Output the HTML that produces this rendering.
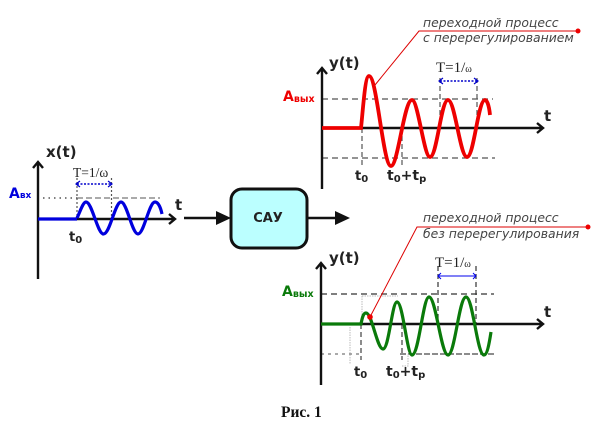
<!DOCTYPE html>
<html>
<head>
<meta charset="utf-8">
<style>
html,body{margin:0;padding:0;background:#fff;}
svg{display:block;}
.b{font-family:"DejaVu Sans",sans-serif;font-weight:bold;}
.i{font-family:"DejaVu Sans",sans-serif;font-style:oblique;font-size:12.4px;fill:#444;}
.T{font-family:"Liberation Serif",serif;fill:#222;}
.lab{font-size:15px;fill:#222;}
</style>
</head>
<body>
<svg width="604" height="431" viewBox="0 0 604 431" xmlns="http://www.w3.org/2000/svg">

<!-- LEFT GRAPH -->
<g fill="none" stroke="#555" stroke-width="1.2">
<path d="M43 198H77" stroke-dasharray="1.5 4" stroke="#333"/>
<path d="M77 198H160" stroke-dasharray="6 3" stroke="#777"/>
<path d="M77 178V219M111.500 178V219" stroke-dasharray="2 2"/>
</g>
<path d="M77 184H111" stroke="#0000cc" stroke-width="1.500" stroke-dasharray="2 1.500" fill="none"/>
<path d="M80 181L76 184L80 187M108 181L112 184L108 187" stroke="#0000cc" stroke-width="1.200" fill="none"/>
<path d="M38 279V163M33 168L38 162L43 168" stroke="#111" stroke-width="2.400" fill="none"/>
<path d="M38 219H174M169 214L175 219L169 224" stroke="#111" stroke-width="2.400" fill="none"/>
<path d="M38 219H77" stroke="#0000dd" stroke-width="3.200" fill="none"/>
<path d="M77 218C80 212 83 202 86 202C92 202 97.500 234 103.500 234C110 234 115 202 121 202C127 202 132 234 138 234C144 234 149 202 155 202C158 202 160.500 207 162 214" stroke="#0000dd" stroke-width="3.200" fill="none"/>
<text class="b lab" x="46" y="157">x(t)</text>
<text class="b" x="175" y="210" font-size="15" fill="#222">t</text>
<text class="b" x="9" y="198" font-size="14" fill="#0000dd">A<tspan font-size="9">вх</tspan></text>
<text class="b" x="69" y="241" font-size="13" fill="#222">t<tspan font-size="10" dy="2">0</tspan></text>
<text class="T" x="73" y="177" font-size="13.500">T=1/ω</text>

<!-- SAU BOX -->
<path d="M184 218H222" stroke="#111" stroke-width="2.500" fill="none"/>
<path d="M216 211L231 218L216 225Z" fill="#111"/>
<path d="M307 218H338" stroke="#111" stroke-width="2.500" fill="none"/>
<path d="M335 211L350 218L335 225Z" fill="#111"/>
<rect x="231" y="189" width="76" height="59" rx="11" ry="11" fill="#bbffff" stroke="#111" stroke-width="3"/>
<text class="b" x="268" y="222" font-size="13" fill="#222" text-anchor="middle">САУ</text>

<!-- RED GRAPH -->
<g fill="none" stroke="#555" stroke-width="1.200">
<path d="M322 99H493" stroke-dasharray="6 4"/>
<path d="M322 158H495" stroke-dasharray="6 4"/>
<path d="M362 128V167M402 128V167" stroke-dasharray="5 3"/>
<path d="M440 78V128M477 78V128" stroke-dasharray="5 3"/>
</g>
<path d="M440 81H477" stroke="#0000cc" stroke-width="1.500" stroke-dasharray="2 1.500" fill="none"/>
<path d="M443 78L439 81L443 84M474 78L478 81L474 84" stroke="#0000cc" stroke-width="1.200" fill="none"/>
<path d="M322 189V69M317 74L322 68L327 74" stroke="#111" stroke-width="2.400" fill="none"/>
<path d="M322 128H542M537 123L543 128L537 133" stroke="#111" stroke-width="2.400" fill="none"/>
<path d="M322 128H361C363 110 365 76 369 76C377 76 383 166 391 166C398 166 404 100 412 100C418 100 424 157 430 157C437 157 441 100 448 100C455 100 460 157 467 157C474 157 478 100 485 100C487 100 489 105 490 115" stroke="#ee0000" stroke-width="3.800" fill="none"/>
<path d="M578 31H419L375 85" stroke="#dd0000" stroke-width="1" fill="none"/>
<circle cx="578" cy="31" r="2.500" fill="#ee0000"/>
<text class="i" x="423" y="27">переходной процесс</text>
<text class="i" x="423" y="42">с перерегулированием</text>
<text class="b lab" x="329" y="68">y(t)</text>
<text class="b" x="544" y="121" font-size="15" fill="#222">t</text>
<text class="b" x="283" y="101" font-size="14" fill="#ee0000">A<tspan font-size="9.500" dy="1">вых</tspan></text>
<text class="b" x="355" y="180" font-size="13" fill="#222">t<tspan font-size="10" dy="2">0</tspan></text>
<text class="b" x="387" y="180" font-size="14" fill="#222">t<tspan font-size="10" dy="2">0</tspan><tspan dy="-2">+t</tspan><tspan font-size="10" dy="2">р</tspan></text>
<text class="T" x="436" y="72" font-size="15">T=1/<tspan font-size="10">ω</tspan></text>

<!-- GREEN GRAPH -->
<g fill="none" stroke="#333" stroke-width="1.200">
<path d="M321 294H494" stroke-dasharray="6 4"/>
<path d="M321 354H362" stroke-dasharray="3 4" stroke="#777"/>
<path d="M400 354H494" stroke-dasharray="6 2" stroke="#666" stroke-width="1.500"/>
<path d="M361 324V360M402 324V360" stroke-dasharray="5 3" stroke="#666" stroke-width="1.500"/>
<path d="M438 266V324M476 266V324" stroke-dasharray="5 3"/>
</g>
<path d="M362 296H398M362 296V324M350 327V364M402 366H408V354" fill="none" stroke="#bbb" stroke-width="1" stroke-dasharray="1.500 1"/>
<path d="M438 276H476" stroke="#0000ee" stroke-width="1" fill="none"/>
<path d="M441 273L438 276L441 279M473 273L476 276L473 279" stroke="#0000ee" stroke-width="1" fill="none"/>
<path d="M321 385V264M316 269L321 263L326 269" stroke="#111" stroke-width="2.400" fill="none"/>
<path d="M321 324H542M537 319L543 324L537 329" stroke="#111" stroke-width="2.400" fill="none"/>
<path d="M321 324H361C362 319 363 313 366 313C372 313 377 349 383 349C389 349 392 302 397 302C403 302 407 355 412 355C419 355 423 297 429 297C436 297 441 355 448 355C455 355 459 297 466 297C473 297 477 355 484 355C487 355 489 345 491 332" stroke="#0a7a0a" stroke-width="3.200" fill="none"/>
<path d="M588 227H417L370 317" stroke="#dd0000" stroke-width="1" fill="none"/>
<circle cx="588" cy="227" r="2.500" fill="#ee0000"/>
<circle cx="370" cy="317" r="2.800" fill="#ee0000"/>
<text class="i" x="423" y="222">переходной процесс</text>
<text class="i" x="423" y="238">без перерегулирования</text>
<text class="b lab" x="329" y="263">y(t)</text>
<text class="b" x="544" y="317" font-size="15" fill="#222">t</text>
<text class="b" x="282" y="296" font-size="14" fill="#0a7a0a">A<tspan font-size="9.500" dy="1">вых</tspan></text>
<text class="b" x="354" y="376" font-size="13" fill="#222">t<tspan font-size="10" dy="2">0</tspan></text>
<text class="b" x="386" y="376" font-size="14" fill="#222">t<tspan font-size="10" dy="2">0</tspan><tspan dy="-2">+t</tspan><tspan font-size="10" dy="2">р</tspan></text>
<text class="T" x="435" y="267" font-size="15">T=1/<tspan font-size="10">ω</tspan></text>

<text x="281" y="417" font-family="'Liberation Serif',serif" font-weight="bold" font-size="15.500" fill="#111">Рис. 1</text>
</svg>
</body>
</html>
